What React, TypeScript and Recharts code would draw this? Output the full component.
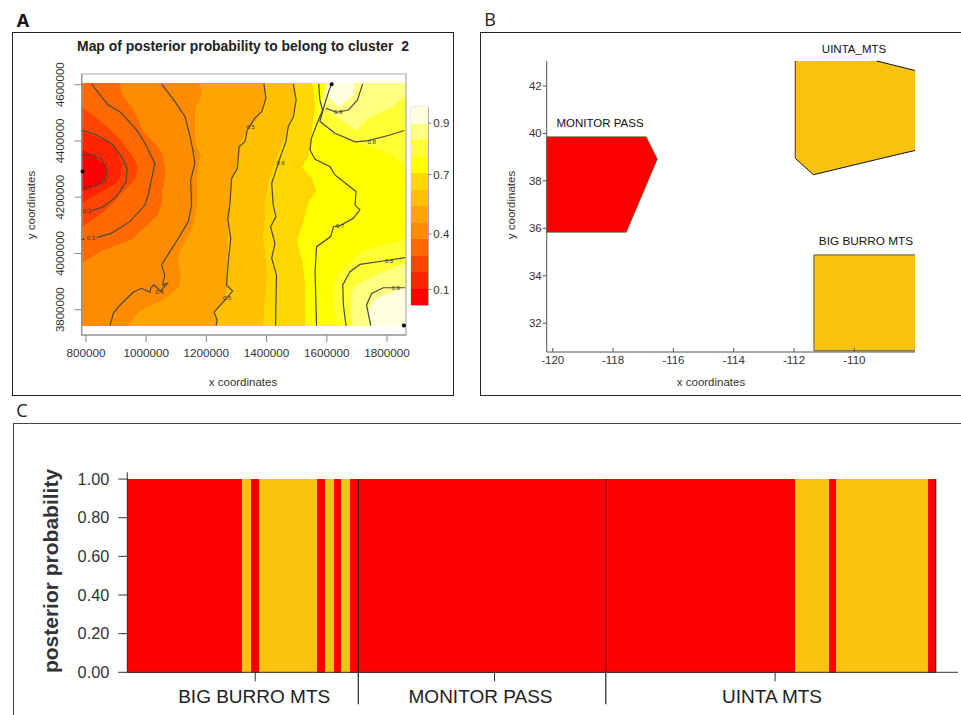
import React from 'react'
import {
  Area,
  AreaChart,
  Bar,
  BarChart,
  ComposedChart,
  Line,
  ReferenceArea,
  ReferenceLine,
  Scatter,
  ScatterChart,
  XAxis,
  YAxis,
} from 'recharts'

const FONT = '"Liberation Sans", Arial, sans-serif'
const RED = '#FF0000'
const AMBER = '#FAC30F'

// ---- panel A: rows of the posterior map, all coordinates in thousands
const ROW_Y = [4606, 4563, 4521, 4478, 4435, 4393, 4371, 4350, 4307, 4265, 4244, 4222, 4179, 4137, 4094, 4051, 4009, 3966, 3923, 3881, 3838, 3795, 3742]
const X_MIN = 786
const X_MAX = 1863
// right edge of each colour band along the rows above
const EDGE_0 = [786, 786, 786, 786, 786, 786, 786, 823, 870, 863, 846, 786, 786, 786, 786, 786, 786, 786, 786, 786, 786, 786, 786]
const EDGE_1 = [786, 786, 786, 786, 786, 880, 896, 910, 920, 913, 890, 856, 786, 786, 786, 786, 786, 786, 786, 786, 786, 786, 786]
const EDGE_2 = [786, 786, 786, 840, 886, 923, 938, 953, 973, 963, 945, 923, 890, 847, 786, 786, 786, 786, 786, 786, 786, 786, 786]
const EDGE_3 = [913, 920, 953, 973, 989, 1029, 1043, 1056, 1062, 1062, 1058, 1052, 1052, 1039, 996, 956, 853, 786, 786, 786, 786, 786, 786]
const EDGE_4 = [1179, 1185, 1165, 1162, 1162, 1165, 1172, 1182, 1172, 1169, 1169, 1169, 1169, 1165, 1155, 1136, 1112, 1106, 1116, 1109, 1062, 979, 936]
const EDGE_5 = [1395, 1398, 1388, 1368, 1335, 1312, 1308, 1305, 1302, 1285, 1280, 1278, 1278, 1278, 1275, 1272, 1272, 1268, 1268, 1268, 1262, 1229, 1235]
const EDGE_6 = [1488, 1494, 1494, 1484, 1471, 1454, 1446, 1438, 1421, 1411, 1406, 1401, 1395, 1395, 1391, 1388, 1395, 1398, 1401, 1398, 1395, 1391, 1388]
const EDGE_7 = [1551, 1557, 1561, 1554, 1551, 1547, 1544, 1541, 1518, 1551, 1558, 1564, 1537, 1528, 1518, 1501, 1508, 1521, 1524, 1528, 1528, 1528, 1528]
const EDGE_8 = [1594, 1584, 1571, 1564, 1594, 1704, 1760, 1817, 1863, 1863, 1863, 1863, 1863, 1863, 1863, 1863, 1717, 1674, 1637, 1624, 1621, 1627, 1634]
const EDGE_9 = [1597, 1587, 1584, 1644, 1700, 1720, 1770, 1817, 1863, 1863, 1863, 1863, 1863, 1863, 1863, 1863, 1863, 1863, 1760, 1687, 1680, 1680, 1684]
const EDGE_10 = [1607, 1597, 1640, 1690, 1700, 1720, 1770, 1817, 1863, 1863, 1863, 1863, 1863, 1863, 1863, 1863, 1863, 1863, 1863, 1863, 1760, 1737, 1750]
const EDGE_11 = [1694, 1687, 1640, 1690, 1700, 1720, 1770, 1817, 1863, 1863, 1863, 1863, 1863, 1863, 1863, 1863, 1863, 1863, 1863, 1863, 1863, 1863, 1863]
const EDGE_10B = [1863, 1863, 1817, 1733, 1700, 1720, 1770, 1817, 1863, 1863, 1863, 1863, 1863, 1863, 1863, 1863, 1863, 1863, 1863, 1863, 1863, 1863, 1863]
const EDGE_9B = ROW_Y.map(() => X_MAX)

const SCALE = ['#FF0000', '#FF2500', '#FF4500', '#FF6A00', '#FF8C00', '#FFA500', '#FFC000', '#FFD700', '#FFFF00', '#FFFF33', '#FFFF80', '#FFFFE0']
const BANDS = [
  { edge: EDGE_0, fill: SCALE[0] },
  { edge: EDGE_1, fill: SCALE[1] },
  { edge: EDGE_2, fill: SCALE[2] },
  { edge: EDGE_3, fill: SCALE[3] },
  { edge: EDGE_4, fill: SCALE[4] },
  { edge: EDGE_5, fill: SCALE[5] },
  { edge: EDGE_6, fill: SCALE[6] },
  { edge: EDGE_7, fill: SCALE[7] },
  { edge: EDGE_8, fill: SCALE[8] },
  { edge: EDGE_9, fill: SCALE[9] },
  { edge: EDGE_10, fill: SCALE[10] },
  { edge: EDGE_11, fill: SCALE[11] },
  { edge: EDGE_10B, fill: SCALE[10] },
  { edge: EDGE_9B, fill: SCALE[9] },
]

const heatRows = ROW_Y.map((y, i) => {
  const row: Record<string, number> = { y: y * 1000, base: X_MIN * 1000 }
  let prev = X_MIN
  BANDS.forEach((b, k) => {
    row[`b${k}`] = (b.edge[i] - prev) * 1000
    prev = b.edge[i]
  })
  return row
})

const CONTOUR_01 = [[786, 4350], [824, 4350], [852, 4335], [869, 4303], [871, 4279], [860, 4255], [835, 4240], [822, 4236]]
const CONTOUR_02 = [[786, 4439], [835, 4421], [885, 4391], [918, 4344], [937, 4303], [933, 4255], [902, 4202], [858, 4166], [819, 4152]]
const CONTOUR_03 = [[819, 4603], [852, 4557], [874, 4528], [913, 4504], [968, 4439], [996, 4392], [1029, 4320], [1007, 4208], [996, 4172], [946, 4113], [885, 4072], [836, 4056]]
const CONTOUR_03_TAIL = [[786, 4048], [795, 4051]]
const CONTOUR_04 = [[1051, 4603], [1096, 4540], [1129, 4486], [1145, 4421], [1156, 4362], [1162, 4320], [1148, 4261], [1151, 4172], [1140, 4113], [1107, 4054], [1051, 3959], [1062, 3923], [1055, 3888], [1070, 3894], [1048, 3866], [1026, 3888], [1015, 3876], [1013, 3862], [985, 3876], [957, 3862], [919, 3823], [891, 3787], [880, 3743]]
const CONTOUR_05 = [[1391, 4603], [1398, 4552], [1384, 4504], [1361, 4481], [1336, 4439], [1328, 4397], [1309, 4380], [1303, 4303], [1284, 4267], [1278, 4172], [1271, 4125], [1281, 4054], [1273, 3971], [1267, 3888], [1287, 3866], [1256, 3828], [1226, 3791], [1236, 3763], [1232, 3743]]
const CONTOUR_06 = [[1489, 4603], [1498, 4546], [1489, 4486], [1472, 4451], [1464, 4397], [1444, 4338], [1417, 4249], [1422, 4172], [1431, 4131], [1413, 4095], [1428, 4036], [1417, 3983], [1433, 3923], [1431, 3828], [1430, 3743]]
const CONTOUR_07 = [[1573, 4603], [1577, 4546], [1586, 4510], [1568, 4463], [1549, 4410], [1544, 4368], [1561, 4335], [1611, 4308], [1627, 4279], [1677, 4237], [1697, 4220], [1694, 4172], [1710, 4155], [1688, 4125], [1644, 4099], [1622, 4095], [1613, 4060], [1566, 4024], [1561, 3935], [1566, 3743]]
const CONTOUR_08_TOP = [[1616, 4603], [1608, 4581], [1594, 4534], [1577, 4469], [1627, 4427], [1694, 4397], [1738, 4401], [1810, 4421], [1857, 4437]]
const CONTOUR_08_LOW = [[1860, 3985], [1788, 3973], [1710, 3961], [1677, 3935], [1653, 3888], [1655, 3817], [1664, 3743]]
const CONTOUR_09_TOP = [[1719, 4603], [1702, 4546], [1672, 4510], [1633, 4502], [1597, 4516]]
const CONTOUR_09_LOW = [[1860, 3878], [1788, 3878], [1749, 3858], [1732, 3817], [1746, 3743]]
const CONTOURS = [CONTOUR_01, CONTOUR_02, CONTOUR_03, CONTOUR_03_TAIL, CONTOUR_04, CONTOUR_05, CONTOUR_06, CONTOUR_07, CONTOUR_08_TOP, CONTOUR_08_LOW, CONTOUR_09_TOP, CONTOUR_09_LOW]

const SAMPLE_SITES = [[789, 4291], [1616, 4602], [1856, 3744]]
const CONTOUR_LABELS: [number, number, string][] = [
  [804, 4234, '0.1'], [804, 4151, '0.2'], [817, 4054, '0.3'], [1044, 3864, '0.4'], [1347, 4451, '0.5'], [1269, 3840, '0.5'],
  [1447, 4320, '0.6'], [1644, 4098, '0.7'], [1749, 4395, '0.8'], [1807, 3974, '0.8'], [1638, 4503, '0.9'], [1829, 3876, '0.9'],
]

const MAP_X_TICKS = [800000, 1000000, 1200000, 1400000, 1600000, 1800000]
const MAP_Y_TICKS = [3800000, 4000000, 4200000, 4400000, 4600000]
const COLORBAR_STEP = [0.0833, 0.0833, 0.0833, 0.0833, 0.0834, 0.0833, 0.0833, 0.0834, 0.0833, 0.0833, 0.0834, 0.0834]
const COLORBAR_TICKS = [0.08, 0.36, 0.66, 0.92]

// ---- panel B: site polygons, longitude / latitude
const MONITOR_X = [-120.2, -117.56, -116.9, -116.53]
const MONITOR_LOW = [35.83, 35.83, 37.81, 38.92]
const MONITOR_HIGH = [39.86, 39.86, 39.86, 38.92]
const UINTA_X = [-111.96, -111.36, -109.26, -107.99]
const UINTA_LOW = [38.95, 38.26, 38.9, 39.28]
const UINTA_HIGH = [43.05, 43.05, 43.05, 42.65]
const BURRO_X = [-111.34, -107.99]
const BURRO_LOW = [30.84, 30.84]
const BURRO_HIGH = [34.88, 34.88]
const LON_TICKS = [-120, -118, -116, -114, -112, -110]
const LAT_TICKS = [32, 34, 36, 38, 40, 42]

const zip = (xs: number[], low: number[], high: number[]) => xs.map((x, i) => ({ x, low: low[i], high: high[i], range: [low[i], high[i]] }))
const monitorRows = zip(MONITOR_X, MONITOR_LOW, MONITOR_HIGH)
const uintaRows = zip(UINTA_X, UINTA_LOW, UINTA_HIGH)
const burroRows = zip(BURRO_X, BURRO_LOW, BURRO_HIGH)

// ---- panel C: share of cluster "red" per individual, site by site
const BURRO_RED = [1, 1, 1, 1, 1, 1, 1, 1, 1, 1, 1, 1, 1, 1, 0, 1, 0, 0, 0, 0, 0, 0, 0, 1, 0, 1, 0, 1]
const MONITOR_RED = [1, 1, 1, 1, 1, 1, 1, 1, 1, 1, 1, 1, 1, 1, 1, 1, 1, 1, 1, 1, 1, 1, 1, 1, 1, 1, 1, 1, 1, 1]
const UINTA_RED = [1, 1, 1, 1, 1, 1, 1, 1, 1, 1, 1, 1, 1, 1, 1, 1, 1, 1, 1, 1, 1, 1, 1, 0, 0, 0, 0, 1, 0, 0, 0, 0, 0, 0, 0, 0, 0, 0, 0, 1]
const PROB_TICKS = [0, 0.2, 0.4, 0.6, 0.8, 1]
const SITE_TICKS = [15, 44, 78]
const SITE_NAMES: Record<number, [string, number]> = {
  15: ['BIG BURRO MTS', -1],
  44: ['MONITOR PASS', -14],
  78: ['UINTA MTS', -3],
}
const SITE_BREAKS = [28, 58]

const individuals = [...BURRO_RED, ...MONITOR_RED, ...UINTA_RED].map((red, id) => ({ id, red, amber: 1 - red }))

const Caption = ({ x, y, size = 11.5, rotate = 0, weight = 400, color = '#333', family = FONT, children }: any) => (
  <div
    style={{
      position: 'absolute',
      left: x,
      top: y,
      transform: `translate(-50%, -50%) rotate(${rotate}deg)`,
      fontFamily: family,
      fontSize: size,
      fontWeight: weight,
      color,
      whiteSpace: 'pre',
      lineHeight: 1,
    }}
  >
    {children}
  </div>
)

const Panel = ({ left, top, width, height, children }: any) => (
  <div style={{ position: 'absolute', left, top, width, height }}>{children}</div>
)

const RotatedTick = ({ x, y, payload }: any) => (
  <text x={x - 9} y={y} transform={`rotate(-90 ${x - 9} ${y})`} textAnchor="middle" fontFamily={FONT} fontSize={11.5} fill="#333">
    {payload.value}
  </text>
)

const SiteTick = ({ x, y, payload }: any) => {
  const [name, shift] = SITE_NAMES[payload.value]
  return (
    <text x={x + shift} y={y + 22} textAnchor="middle" fontFamily={FONT} fontSize={19} fill="#222">
      {name}
    </text>
  )
}

const MapPanel = () => {
  const xDomain = [X_MIN * 1000, X_MAX * 1000]
  const yDomain = [3710000, 4638000]
  const margin = { left: 69.7, right: 48, top: 41, bottom: 61 }
  return (
    <>
      <Panel left={12} top={33} width={442} height={363}>
        <AreaChart width={442} height={363} layout="vertical" data={heatRows} margin={margin}>
          <XAxis type="number" hide domain={xDomain} allowDataOverflow />
          <YAxis type="number" dataKey="y" hide domain={yDomain} reversed allowDataOverflow />
          <Area dataKey="base" stackId="heat" stroke="none" fill="none" isAnimationActive={false} dot={false} activeDot={false} />
          {BANDS.map((b, k) => (
            <Area
              key={k}
              dataKey={`b${k}`}
              stackId="heat"
              stroke="none"
              fill={b.fill}
              fillOpacity={1}
              shapeRendering="crispEdges"
              isAnimationActive={false}
              dot={false}
              activeDot={false}
            />
          ))}
        </AreaChart>
      </Panel>
      <Panel left={12} top={33} width={442} height={363}>
        <ScatterChart width={442} height={363} margin={{ left: 19.7, right: 48, top: 41, bottom: 31 }}>
          <XAxis
            type="number"
            dataKey="x"
            domain={xDomain}
            ticks={MAP_X_TICKS}
            height={30}
            stroke="#888"
            tickSize={7}
            tickMargin={7}
            tick={{ fontFamily: FONT, fontSize: 11.7, fill: '#333' }}
          />
          <YAxis
            type="number"
            dataKey="y"
            domain={yDomain}
            ticks={MAP_Y_TICKS}
            width={50}
            stroke="#888"
            tickSize={7}
            tickMargin={2}
            tick={RotatedTick}
          />
          <ReferenceArea x1={xDomain[0]} x2={xDomain[1]} y1={yDomain[0]} y2={yDomain[1]} fill="none" stroke="#aaa" strokeWidth={1.2} />
          {CONTOURS.map((c, i) => (
            <Scatter
              key={i}
              data={c.map(([x, y]) => ({ x: x * 1000, y: y * 1000 }))}
              line={{ stroke: '#4a4a40', strokeWidth: 1.2 }}
              shape={() => <g />}
              isAnimationActive={false}
            />
          ))}
          <Scatter
            data={CONTOUR_LABELS.map(([x, y, label]) => ({ x: x * 1000, y: y * 1000, label }))}
            shape={(p: any) => (
              <text x={p.cx} y={p.cy + 2} textAnchor="middle" fontFamily={FONT} fontSize={6} fill="#333">
                {p.payload.label}
              </text>
            )}
            isAnimationActive={false}
          />
          <Scatter
            data={SAMPLE_SITES.map(([x, y]) => ({ x: x * 1000, y: y * 1000 }))}
            fill="#000"
            shape={(p: any) => <circle cx={p.cx} cy={p.cy} r={2} fill="#000" />}
            isAnimationActive={false}
          />
        </ScatterChart>
      </Panel>
      <Panel left={380} top={90} width={70} height={232}>
        <BarChart
          width={70}
          height={232}
          data={[Object.fromEntries(COLORBAR_STEP.map((v, i) => [`s${i}`, v]))]}
          barCategoryGap={0}
          margin={{ left: 31.3, right: 0, top: 17.3, bottom: 16.7 }}
        >
          <XAxis hide />
          <YAxis
            orientation="right"
            domain={[0, 1]}
            ticks={COLORBAR_TICKS}
            width={21.7}
            stroke="#777"
            axisLine={false}
            tickSize={3}
            tickMargin={2}
            tickFormatter={(v: number) => v.toFixed(1)}
            tick={{ fontFamily: FONT, fontSize: 11.5, fill: '#333' }}
          />
          {COLORBAR_STEP.map((_, i) => (
            <Bar key={i} dataKey={`s${i}`} stackId="bar" fill={SCALE[i]} shapeRendering="crispEdges" isAnimationActive={false} />
          ))}
          <ReferenceArea y1={0} y2={1} fill="none" stroke="#999" strokeWidth={1} />
        </BarChart>
      </Panel>
    </>
  )
}

const SitesPanel = () => (
  <Panel left={481} top={33} width={479} height={363}>
    <ComposedChart width={479} height={363} margin={{ left: 25.7, right: 45, top: 28, bottom: 14 }}>
      <XAxis
        type="number"
        dataKey="x"
        domain={[-120.2, -107.99]}
        ticks={LON_TICKS}
        height={30}
        stroke="#555"
        tickSize={-4}
        tickMargin={8}
        tick={{ fontFamily: FONT, fontSize: 11.5, fill: '#333' }}
      />
      <YAxis
        type="number"
        domain={[30.79, 43.05]}
        ticks={LAT_TICKS}
        width={40}
        stroke="#555"
        tickSize={4}
        tickMargin={1}
        tick={{ fontFamily: FONT, fontSize: 11.5, fill: '#333' }}
      />
      <Area data={monitorRows} dataKey="range" type="linear" stroke="#2e7d32" strokeWidth={0.6} fill={RED} fillOpacity={1} isAnimationActive={false} dot={false} activeDot={false} />
      <Area data={uintaRows} dataKey="range" type="linear" stroke="none" fill={AMBER} fillOpacity={1} isAnimationActive={false} dot={false} activeDot={false} />
      <Area data={burroRows} dataKey="range" type="linear" stroke="#555" strokeWidth={1} fill={AMBER} fillOpacity={1} isAnimationActive={false} dot={false} activeDot={false} />
      <Line data={uintaRows} dataKey="low" type="linear" stroke="#111" strokeWidth={1} dot={false} activeDot={false} isAnimationActive={false} />
      <Line data={uintaRows.slice(2)} dataKey="high" type="linear" stroke="#111" strokeWidth={1} dot={false} activeDot={false} isAnimationActive={false} />
      <ReferenceLine segment={[{ x: -111.96, y: 38.95 }, { x: -111.96, y: 43.05 }]} stroke="#7a1f10" strokeWidth={1} />
      <ReferenceLine segment={[{ x: -111.34, y: 30.84 }, { x: -111.34, y: 34.88 }]} stroke="#555" strokeWidth={1} />
    </ComposedChart>
  </Panel>
)

const StructurePanel = () => (
  <Panel left={13} top={424} width={948} height={291}>
    <BarChart
      width={948}
      height={291}
      data={individuals}
      barCategoryGap={0}
      barGap={0}
      margin={{ left: 54.3, right: 3, top: 48.3, bottom: 0 }}
    >
      <XAxis
        dataKey="id"
        ticks={SITE_TICKS}
        interval={0}
        height={42.7}
        padding={{ left: 0, right: 22 }}
        stroke="#333"
        tickSize={9}
        tickMargin={0}
        tick={SiteTick}
      />
      <XAxis xAxisId="site" dataKey="id" type="number" hide domain={[0, 100.69]} allowDataOverflow />
      <YAxis
        type="number"
        domain={[0, 1.035]}
        ticks={PROB_TICKS}
        width={60}
        stroke="#333"
        tickSize={9}
        tickMargin={9}
        tickFormatter={(v: number) => v.toFixed(2)}
        tick={{ fontFamily: FONT, fontSize: 16.3, fill: '#333' }}
      />
      <Bar dataKey="red" stackId="q" fill={RED} stroke={RED} strokeWidth={1} shapeRendering="crispEdges" isAnimationActive={false} />
      <Bar dataKey="amber" stackId="q" fill={AMBER} stroke={AMBER} strokeWidth={1} shapeRendering="crispEdges" isAnimationActive={false} />
      {SITE_BREAKS.map(b => (
        <ReferenceLine
          key={b}
          xAxisId="site"
          segment={[{ x: b, y: 1 }, { x: b, y: -0.1655 }]}
          ifOverflow="visible"
          stroke="#222"
          strokeWidth={1.2}
        />
      ))}
      <ReferenceLine xAxisId="site" segment={[{ x: 98, y: 1 }, { x: 98, y: 0 }]} stroke="#222" strokeWidth={1} />
    </BarChart>
  </Panel>
)

export default function App() {
  return (
    <div style={{ position: 'absolute', left: 0, top: 0, width: 961, height: 715, overflow: 'hidden', background: '#fff' }}>
      <div style={{ position: 'absolute', left: 12, top: 32, width: 440, height: 362, border: '1.5px solid #222' }} />
      <div style={{ position: 'absolute', left: 480, top: 32, width: 490, height: 362, border: '1.5px solid #222' }} />
      <div style={{ position: 'absolute', left: 13, top: 423, width: 960, height: 320, border: '1.5px solid #444' }} />

      <Caption x={23} y={20} size={18} weight={700} color="#111" family='"Open Sans", sans-serif'>A</Caption>
      <Caption x={490} y={19} size={18} color="#222" family='"Open Sans", sans-serif'>B</Caption>
      <Caption x={22} y={410} size={18} color="#222" family='"Open Sans", sans-serif'>C</Caption>

      <MapPanel />
      <SitesPanel />
      <StructurePanel />

      <Caption x={243} y={47} size={13.9} weight={700} color="#222">{'Map of posterior probability to belong to cluster  2'}</Caption>
      <Caption x={243} y={383}>x coordinates</Caption>
      <Caption x={32} y={205} rotate={-90}>y coordinates</Caption>

      <Caption x={711} y={383}>x coordinates</Caption>
      <Caption x={512} y={205} rotate={-90}>y coordinates</Caption>
      <Caption x={854} y={50} color="#111">UINTA_MTS</Caption>
      <Caption x={600} y={124} color="#111">MONITOR PASS</Caption>
      <Caption x={866} y={242} size={11.8} color="#111">BIG BURRO MTS</Caption>

      <Caption x={50} y={571} size={21} rotate={-90} weight={700} color="#333">posterior probability</Caption>
    </div>
  )
}
